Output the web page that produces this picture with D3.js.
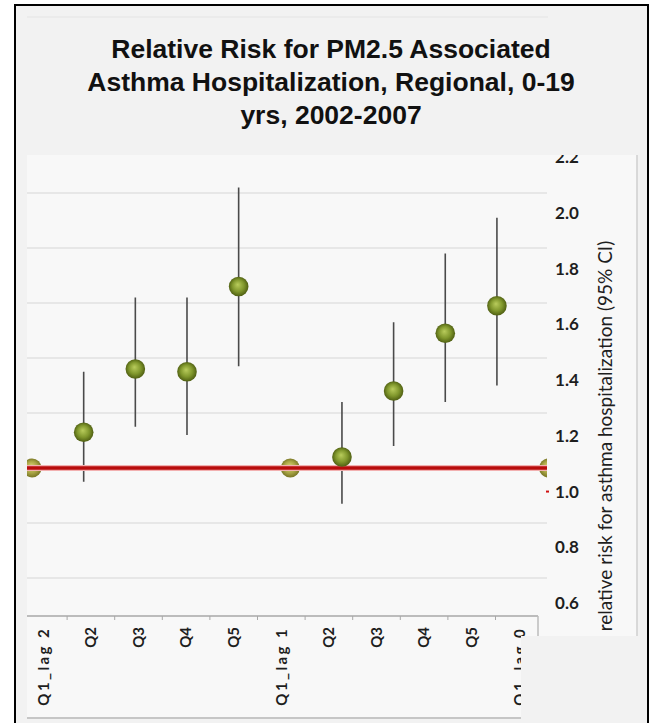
<!DOCTYPE html>
<html>
<head>
<meta charset="utf-8">
<script src="https://cdn.jsdelivr.net/npm/d3@7"></script>
<style>
  html, body { margin: 0; padding: 0; background: #fff; }
  svg { display: block; }
</style>
</head>
<body>
<div id="chart"></div>
<script>
// categories on the x axis (the last one is cut off by the box)
const xLabels = ["Q1_lag 2", "Q2", "Q3", "Q4", "Q5", "Q1_lag 1", "Q2", "Q3", "Q4", "Q5", "Q1_lag 0"];
// relative risk and 95% CI
const rr     = [1.00, 1.13, 1.36, 1.35, 1.66, 1.00, 1.04, 1.28, 1.49, 1.59, 1.00];
const ciLow  = [null, 0.95, 1.15, 1.12, 1.37, null, 0.87, 1.08, 1.24, 1.30, null];
const ciHigh = [null, 1.35, 1.62, 1.62, 2.02, null, 1.24, 1.53, 1.78, 1.91, null];
const yTicks = [0.6, 0.8, 1.0, 1.2, 1.4, 1.6, 1.8, 2.0, 2.2];
const refValue = 1.0;

const titleLines = [
  "Relative Risk for PM2.5 Associated",
  "Asthma Hospitalization, Regional, 0-19",
  "yrs, 2002-2007"
];
const yTitle = "relative risk for asthma hospitalization (95% CI)";

const W = 652, H = 723;
const SVG = d3.select("#chart").append("svg")
  .attr("width", W)
  .attr("height", H);

const defs = SVG.append("defs");

// sphere-like markers
function sphere(id, stops) {
  const g = defs.append("radialGradient")
    .attr("id", id)
    .attr("cx", "50%").attr("cy", "50%").attr("r", "55%")
    .attr("fx", "45%").attr("fy", "40%");
  stops.forEach(s => g.append("stop").attr("offset", s[0]).attr("stop-color", s[1]));
}
sphere("ball", [["0%", "#b9cc5c"], ["55%", "#80972c"], ["100%", "#45530d"]]);
sphere("ballRef", [["0%", "#d9d274"], ["55%", "#aaa646"], ["100%", "#6e6c1e"]]);

// plot area (chart picture) limits
const plotLeft = 27, plotRight = 547, plotTop = 155, axisY = 616;

defs.append("clipPath").attr("id", "plotClip")
  .append("rect")
  .attr("x", plotLeft).attr("y", plotTop)
  .attr("width", plotRight - plotLeft).attr("height", axisY - plotTop);

defs.append("clipPath").attr("id", "chartClip")
  .append("rect")
  .attr("x", plotLeft).attr("y", plotTop)
  .attr("width", 637 - plotLeft).attr("height", 718 - plotTop);

// frame
SVG.append("rect")
  .attr("x", 15).attr("y", 5)
  .attr("width", 633).attr("height", 740)
  .attr("fill", "#f2f2f2")
  .attr("stroke", "#000")
  .attr("stroke-width", 2);

SVG.append("line")
  .attr("x1", 27).attr("x2", 548)
  .attr("y1", 17).attr("y2", 17)
  .attr("stroke", "#e4e4e4")
  .attr("stroke-width", 1);

// title
SVG.append("text")
  .attr("x", 331)
  .attr("text-anchor", "middle")
  .attr("font-family", "Liberation Sans, Arial, Helvetica, sans-serif")
  .attr("font-weight", "bold")
  .attr("font-size", 26.5)
  .attr("fill", "#111")
  .selectAll("tspan")
  .data(titleLines)
  .join("tspan")
  .attr("x", 331)
  .attr("y", (d, i) => 58 + i * 33)
  .text(d => d);

// chart picture background
SVG.append("rect")
  .attr("x", plotLeft).attr("y", plotTop)
  .attr("width", 637 - plotLeft).attr("height", 718 - plotTop)
  .attr("fill", "#f8f8f8");

// scales
const x = d3.scaleBand()
  .domain(d3.range(xLabels.length))
  .range([6.2, 574.4]);

const y = d3.scaleLinear()
  .domain([0.6, 2.2])
  .range([578, 138]);

// the tick labels sit a bit lower than the plot in the original picture
const yLab = d3.scaleLinear()
  .domain([0.6, 2.0])
  .range([603, 213]);

const xAxisScale = d3.scaleBand()
  .domain(d3.range(xLabels.length))
  .range([19.5, 543.1]);

const plot = SVG.append("g").attr("clip-path", "url(#plotClip)");

// gridlines
plot.append("g")
  .selectAll("line")
  .data(yTicks)
  .join("line")
  .attr("x1", plotLeft).attr("x2", plotRight)
  .attr("y1", d => y(d)).attr("y2", d => y(d))
  .attr("stroke", "#e2e2e2")
  .attr("stroke-width", 1.5);

const pts = rr.map((v, i) => ({ i, v, lo: ciLow[i], hi: ciHigh[i] }));

// confidence intervals
plot.append("g")
  .selectAll("line")
  .data(pts.filter(d => d.lo != null))
  .join("line")
  .attr("x1", d => x(d.i) + x.bandwidth() / 2)
  .attr("x2", d => x(d.i) + x.bandwidth() / 2)
  .attr("y1", d => y(d.lo))
  .attr("y2", d => y(d.hi))
  .attr("stroke", "#4a4a4a")
  .attr("stroke-width", 1.6);

// reference points first, red line over them
plot.append("g")
  .selectAll("circle")
  .data(pts.filter(d => d.lo == null))
  .join("circle")
  .attr("cx", d => x(d.i) + x.bandwidth() / 2)
  .attr("cy", d => y(d.v))
  .attr("r", 9.5)
  .attr("fill", "url(#ballRef)");

plot.append("line")
  .attr("x1", plotLeft).attr("x2", plotRight)
  .attr("y1", y(refValue)).attr("y2", y(refValue))
  .attr("stroke", "#f2b0b0")
  .attr("stroke-width", 6);
plot.append("line")
  .attr("x1", plotLeft).attr("x2", plotRight)
  .attr("y1", y(refValue)).attr("y2", y(refValue))
  .attr("stroke", "#b80c0c")
  .attr("stroke-width", 3.5);

plot.append("g")
  .selectAll("circle")
  .data(pts.filter(d => d.lo != null))
  .join("circle")
  .attr("cx", d => x(d.i) + x.bandwidth() / 2)
  .attr("cy", d => y(d.v))
  .attr("r", 9.8)
  .attr("fill", "url(#ball)");

// y tick labels (right side)
const right = SVG.append("g").attr("clip-path", "url(#chartClip)");
right.append("g")
  .selectAll("text")
  .data(yTicks)
  .join("text")
  .attr("x", 567)
  .attr("y", d => yLab(d))
  .attr("dy", "0.35em")
  .attr("text-anchor", "middle")
  .attr("font-family", "Lato, 'Open Sans', sans-serif")
  .attr("font-weight", "bold")
  .attr("font-size", 17)
  .attr("fill", "#1e1e1e")
  .text(d => d.toFixed(1));

right.append("line")
  .attr("x1", 546).attr("x2", 549)
  .attr("y1", yLab(refValue)).attr("y2", yLab(refValue))
  .attr("stroke", "#d01010")
  .attr("stroke-width", 2);

right.append("text")
  .attr("transform", `translate(605,${(240 + 632) / 2}) rotate(-90)`)
  .attr("dy", "0.35em")
  .attr("text-anchor", "middle")
  .attr("font-family", "Lato, 'Open Sans', sans-serif")
  .attr("font-size", 19)
  .attr("fill", "#1e1e1e")
  .text(yTitle);

// edge of the chart picture
SVG.append("line")
  .attr("x1", 637).attr("x2", 637)
  .attr("y1", plotTop).attr("y2", 636)
  .attr("stroke", "#cfcfcf")
  .attr("stroke-width", 1.5);

// x axis
SVG.append("line")
  .attr("x1", plotLeft).attr("x2", 538)
  .attr("y1", axisY).attr("y2", axisY)
  .attr("stroke", "#a8a8a8")
  .attr("stroke-width", 1.5);

SVG.append("line")
  .attr("x1", 538).attr("x2", 538)
  .attr("y1", axisY).attr("y2", 636)
  .attr("stroke", "#bdbdbd")
  .attr("stroke-width", 1.5);

SVG.append("g")
  .selectAll("line")
  .data(d3.range(1, xLabels.length))
  .join("line")
  .attr("x1", d => xAxisScale(d)).attr("x2", d => xAxisScale(d))
  .attr("y1", axisY).attr("y2", axisY + 4)
  .attr("stroke", "#a8a8a8")
  .attr("stroke-width", 1);

SVG.append("g")
  .selectAll("text")
  .data(xLabels)
  .join("text")
  .attr("transform", (d, i) => `translate(${xAxisScale(i) + xAxisScale.bandwidth() / 2},627) rotate(-90)`)
  .attr("dy", "0.35em")
  .attr("text-anchor", "end")
  .attr("font-family", "Lato, 'Open Sans', sans-serif")
  .attr("font-weight", "bold")
  .attr("font-size", 15)
  .attr("letter-spacing", d => d.length > 3 ? 2.4 : 0)
  .attr("fill", "#1e1e1e")
  .text(d => d);

SVG.append("line")
  .attr("x1", plotLeft).attr("x2", 521)
  .attr("y1", 718).attr("y2", 718)
  .attr("stroke", "#c6c6c6")
  .attr("stroke-width", 2);

// grey box covering the lower right corner
SVG.append("rect")
  .attr("x", 521).attr("y", 636)
  .attr("width", 126).attr("height", 90)
  .attr("fill", "#f2f2f2");

SVG.append("line")
  .attr("x1", 648).attr("x2", 648)
  .attr("y1", 5).attr("y2", H)
  .attr("stroke", "#000")
  .attr("stroke-width", 2);
</script>
</body>
</html>
